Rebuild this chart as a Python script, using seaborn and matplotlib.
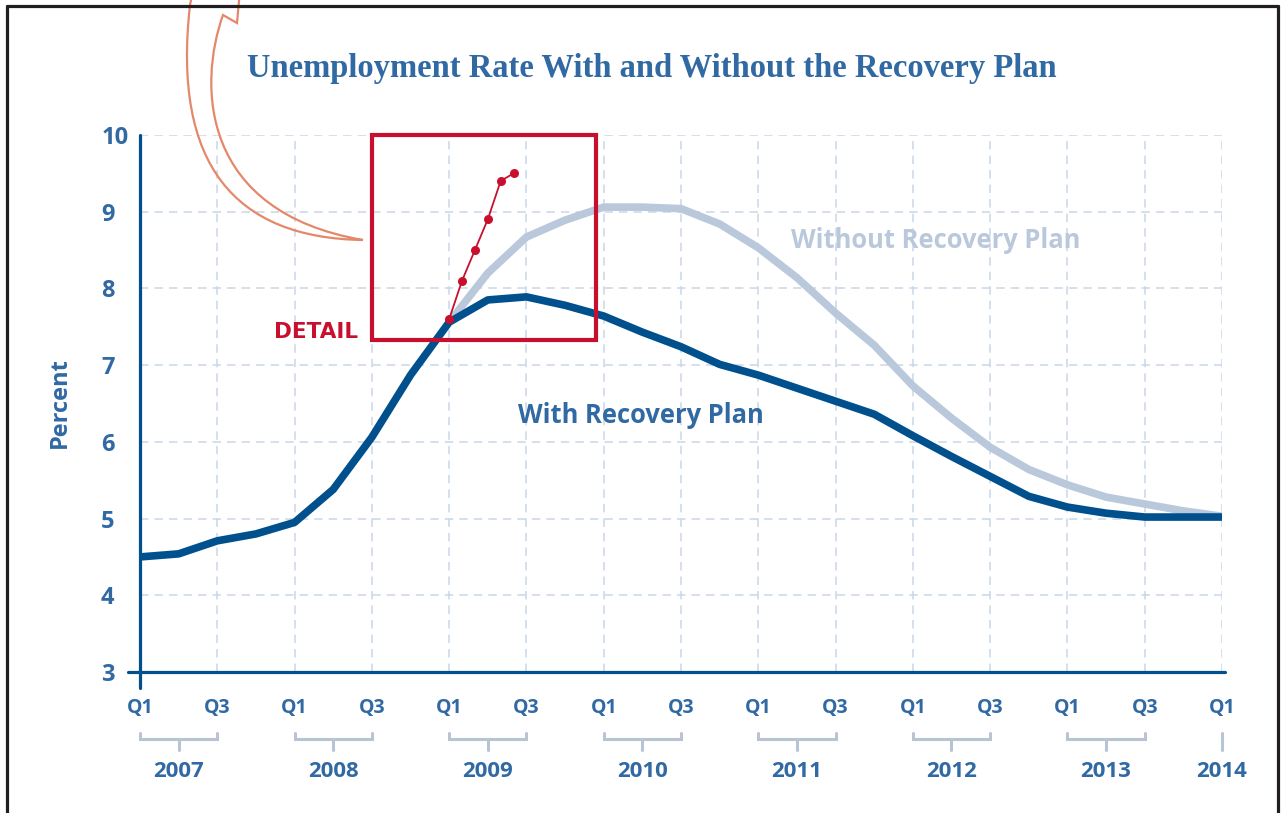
import numpy as np
import pandas as pd
import matplotlib
matplotlib.use('Agg')
import matplotlib.pyplot as plt
import matplotlib.transforms as mtransforms
from matplotlib.path import Path
from matplotlib.patches import PathPatch, Rectangle
from matplotlib.lines import Line2D
import seaborn as sns

# quarter index: 0 = Q1 2007 ... 28 = Q1 2014
quarters = list(range(29))
with_plan = [4.50, 4.54, 4.71, 4.80, 4.95, 5.38, 6.06, 6.87, 7.56, 7.85, 7.89, 7.78,
             7.64, 7.43, 7.24, 7.01, 6.87, 6.70, 6.53, 6.36, 6.08, 5.81, 5.55, 5.29,
             5.15, 5.07, 5.02, 5.02, 5.02]
without_quarters = list(range(8, 29))
without_plan = [7.56, 8.20, 8.67, 8.89, 9.06, 9.06, 9.04, 8.84, 8.53, 8.14, 7.68, 7.26,
                6.73, 6.31, 5.93, 5.64, 5.44, 5.28, 5.19, 5.10, 5.03]
# actual monthly rate Jan..Jun 2009
actual_months = [0, 1, 2, 3, 4, 5]
actual_rate = [7.6, 8.1, 8.5, 8.9, 9.4, 9.5]

tick_pos = list(range(0, 29, 2))
tick_labels = ['Q1', 'Q3'] * 7 + ['Q1']
years = ['2007', '2008', '2009', '2010', '2011', '2012', '2013', '2014']

DARK = '#00508e'
LIGHT = '#b9c8db'
TEXT = '#3169a3'
RED = '#c8102e'
GRID = '#c9d6e8'
BRACKET = '#b7c4d4'

sns.set_style('white')
plt.rcParams['font.family'] = ['Open Sans', 'DejaVu Sans']

W, H = 1281, 813
fig = plt.figure(figsize=(W / 100, H / 100), dpi=100)
ax = fig.add_axes([140 / W, 1 - 672 / H, (1222 - 140) / W, (672 - 135) / H])

df_with = pd.DataFrame({'q': quarters, 'rate': with_plan})
df_without = pd.DataFrame({'q': without_quarters, 'rate': without_plan})
df_actual = pd.DataFrame({'q': [8 + m / 3 for m in actual_months], 'rate': actual_rate})

sns.lineplot(data=df_without, x='q', y='rate', ax=ax, color=LIGHT, linewidth=5.5,
             solid_capstyle='butt', zorder=3)
sns.lineplot(data=df_with, x='q', y='rate', ax=ax, color=DARK, linewidth=5.5,
             solid_capstyle='butt', zorder=4)
sns.lineplot(data=df_actual, x='q', y='rate', ax=ax, color=RED, linewidth=1.3,
             marker='o', markersize=6.5, markeredgewidth=0, zorder=6)

ax.set_xlim(0, 28)
ax.set_ylim(3, 10)
ax.set_xticks(tick_pos)
ax.set_xticklabels(tick_labels)
ax.set_yticks(range(3, 11))
ax.set_xlabel('')
ax.set_ylabel('')
for s in ax.spines.values():
    s.set_visible(False)

ax.grid(True, color=GRID, linewidth=1.1, linestyle=(0, (5.5, 4)))
ax.set_axisbelow(True)

ax.tick_params(axis='x', length=0, pad=19, labelsize=14, labelcolor=TEXT)
ax.tick_params(axis='y', length=0, pad=28, labelsize=17, labelcolor=TEXT)
for lab in ax.get_xticklabels() + ax.get_yticklabels():
    lab.set_fontweight('bold')
for lab in ax.get_yticklabels():
    lab.set_horizontalalignment('left')

# axis lines
ax.plot([0, 0], [2.79, 10], color=DARK, linewidth=2.3, clip_on=False, zorder=5)
ax.plot([-0.31, 28.08], [3, 3], color=DARK, linewidth=2.3, clip_on=False, zorder=5)

# year brackets
trans = mtransforms.blended_transform_factory(ax.transData, ax.transAxes)
y_top, y_base, y_tick = -0.1136, -0.1248, -0.1453
for i, yr in enumerate(years):
    x0 = i * 4
    if yr == '2014':
        ax.plot([x0, x0], [y_top, y_tick], color=BRACKET, lw=2.2, transform=trans, clip_on=False)
        xc = x0
    else:
        ax.plot([x0, x0, x0 + 2, x0 + 2], [y_top, y_base, y_base, y_top], color=BRACKET, lw=2.2,
                transform=trans, clip_on=False, solid_joinstyle='miter')
        ax.plot([x0 + 1, x0 + 1], [y_base, y_tick], color=BRACKET, lw=2.2, transform=trans, clip_on=False)
        xc = x0 + 1
    ax.text(xc, -0.186, yr, transform=trans, ha='center', va='center', fontsize=16,
            fontweight='bold', color=TEXT)

# detail box
ax.add_patch(Rectangle((6.0, 7.33), 5.8, 2.67, fill=False, edgecolor=RED, linewidth=3,
                       clip_on=False, zorder=7))
ax.text(5.65, 7.43, 'DETAIL', ha='right', va='center', fontsize=15.5, fontweight='bold',
        color=RED, family=['DejaVu Sans'])

ax.text(20.6, 8.63, 'Without Recovery Plan', ha='center', va='center', fontsize=18.4,
        fontweight='bold', color=LIGHT)
ax.text(12.97, 6.35, 'With Recovery Plan', ha='center', va='center', fontsize=18.4,
        fontweight='bold', color=TEXT)

fig.text(60 / W, 1 - 403 / H, 'Percent', rotation=90, ha='center', va='center',
         fontsize=17, fontweight='bold', color=TEXT)
fig.text(652 / W, 1 - 68 / H, 'Unemployment Rate With and Without the Recovery Plan',
         ha='center', va='center', fontsize=23.5, fontweight='bold', color=TEXT,
         family=['Liberation Serif', 'DejaVu Serif'])

# curved arrow (outline), in figure pixel coords from top-left
px = mtransforms.Affine2D().scale(1 / W, -1 / H).translate(0, 1) + fig.transFigure
verts = [(363, 240), (235, 238), (172, 165), (190, 5), (193, -10), (240, -10), (237, 23),
         (223, 15), (198, 85), (200, 212), (363, 240), (363, 240)]
codes = [Path.MOVETO, Path.CURVE4, Path.CURVE4, Path.CURVE4, Path.LINETO, Path.LINETO,
         Path.LINETO, Path.LINETO, Path.CURVE4, Path.CURVE4, Path.CURVE4, Path.CLOSEPOLY]
fig.add_artist(PathPatch(Path(verts, codes), facecolor='none', edgecolor='#e3886b',
                         linewidth=1.6, transform=px))

# page frame
for xs, ys in [([7, 7], [6, 820]), ([7, 1278], [6, 6]), ([1278, 1278], [6, 820])]:
    fig.add_artist(Line2D(xs, ys, color='#231f20', linewidth=2.3, transform=px))

fig.savefig('out.png', dpi=100)
